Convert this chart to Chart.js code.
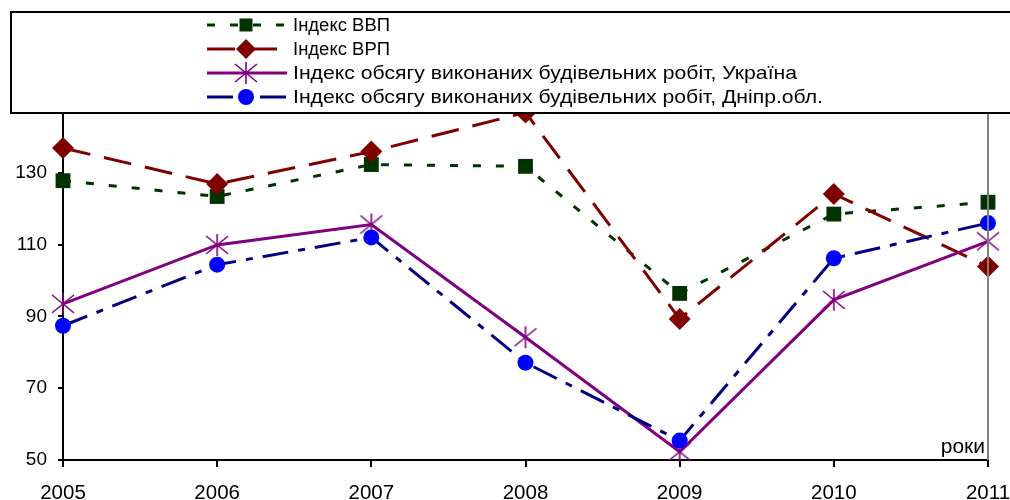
<!DOCTYPE html>
<html><head><meta charset="utf-8">
<script src="https://cdn.jsdelivr.net/npm/chart.js@4.4.0/dist/chart.umd.min.js"></script>
<style>html,body{margin:0;padding:0;background:#fff}#wrap{width:1010px;height:500px;position:relative}</style>
</head><body><div id="wrap"><canvas id="c" width="1010" height="500"></canvas></div>
<script>
const years = ['2005','2006','2007','2008','2009','2010','2011'];
const gdpIndex = [127.8,123.4,132.3,131.8,96.4,118.5,121.8];
const grpIndex = [136.9,126.9,135.9,146.8,89.3,124.1,103.9];
const constrUkraine = [93.5,109.9,115.6,84.2,52.3,94.6,110.9];
const constrDnipro = [87.4,104.4,112.0,77.1,55.4,106.2,116.0];
const seriesNames = ['Індекс ВВП','Індекс ВРП','Індекс обсягу виконаних будівельних робіт, Україна','Індекс обсягу виконаних будівельних робіт, Дніпр.обл.'];
const yTickValues = [50,70,90,110,130];
const axisNote = 'роки';

const FONT = '"Liberation Sans", Arial, sans-serif';

function makeStar(color){
  const s = 28, m = s/2;
  const c = document.createElement('canvas'); c.width = s; c.height = s;
  const g = c.getContext('2d');
  g.strokeStyle = color; g.lineWidth = 1.6;
  g.beginPath();
  g.moveTo(m, m-11); g.lineTo(m, m+11);
  g.moveTo(m-11, m-9); g.lineTo(m+11, m+9);
  g.moveTo(m+11, m-9); g.lineTo(m-11, m+9);
  g.stroke();
  return c;
}
const starImg = makeStar('#800080');

const styles = [
  {line:'#003300', dash:[8,15], marker:'rect', fill:'#003300', r:10.5},
  {line:'#800000', dash:[28,14], marker:'rectRot', fill:'#800000', r:11},
  {line:'#800080', dash:[], marker:'star', fill:'#800080', r:12},
  {line:'#000080', dash:[26,10,7,10], marker:'circle', fill:'#0000FF', r:8}
];
const seriesData = [gdpIndex, grpIndex, constrUkraine, constrDnipro];
const legendTextEnds = [390, 390, 797, 823];

function drawMarker(ctx, st, x, y){
  ctx.save();
  ctx.fillStyle = st.fill; ctx.strokeStyle = st.fill; ctx.setLineDash([]);
  if (st.marker === 'rect'){ const h = 6.5; ctx.fillRect(x-h, y-h, 2*h, 2*h); }
  else if (st.marker === 'rectRot'){ const r = 10; ctx.beginPath(); ctx.moveTo(x, y-r); ctx.lineTo(x+r, y); ctx.lineTo(x, y+r); ctx.lineTo(x-r, y); ctx.closePath(); ctx.fill(); }
  else if (st.marker === 'circle'){ ctx.beginPath(); ctx.arc(x, y, 8, 0, Math.PI*2); ctx.fill(); }
  else { ctx.drawImage(starImg, x-14, y-14); }
  ctx.restore();
}

const overlay = {
  id:'overlay',
  afterDatasetsDraw(chart){
    const ctx = chart.ctx, a = chart.chartArea;
    ctx.save();
    ctx.strokeStyle = '#808080'; ctx.lineWidth = 2;
    ctx.beginPath(); ctx.moveTo(a.right, a.top); ctx.lineTo(a.right, a.bottom); ctx.stroke();
    ctx.fillStyle = '#000'; ctx.font = '21px ' + FONT;
    ctx.textAlign = 'right'; ctx.textBaseline = 'alphabetic';
    ctx.fillText(axisNote, a.right - 3, a.bottom - 7);
    ctx.fillStyle = '#fff'; ctx.fillRect(10, 12, 1010, 101);
    ctx.strokeStyle = '#000'; ctx.lineWidth = 2;
    ctx.strokeRect(11, 12, 1010, 101);
    const rows = [25, 49, 73, 97];
    for (let i = 0; i < styles.length; i++){
      const st = styles[i], y = rows[i];
      ctx.strokeStyle = st.line; ctx.lineWidth = 3; ctx.setLineDash(st.dash);
      ctx.beginPath(); ctx.moveTo(207, y); ctx.lineTo(287, y); ctx.stroke();
      ctx.setLineDash([]);
      drawMarker(ctx, st, 246, y);
      ctx.fillStyle = '#000'; ctx.font = '18.5px ' + FONT;
      ctx.textAlign = 'left'; ctx.textBaseline = 'middle';
      const w = ctx.measureText(seriesNames[i]).width;
      const sx = (legendTextEnds[i] - 293) / w;
      ctx.save(); ctx.translate(293, y + 1); ctx.scale(sx, 1);
      ctx.fillText(seriesNames[i], 0, 0);
      ctx.restore();
    }
    ctx.restore();
  }
};

new Chart(document.getElementById('c'), {
  type:'line',
  data:{
    labels: years,
    datasets: seriesData.map((d, i) => ({
      label: seriesNames[i],
      data: d,
      borderColor: styles[i].line,
      borderWidth: 3,
      borderDash: styles[i].dash,
      backgroundColor: styles[i].fill,
      pointBackgroundColor: styles[i].fill,
      pointBorderColor: styles[i].fill,
      pointBorderWidth: 0,
      pointStyle: styles[i].marker === 'star' ? starImg : styles[i].marker,
      pointRadius: styles[i].r,
      tension: 0,
      fill: false,
      order: 4 - i,
      clip: false
    }))
  },
  options:{
    responsive:false,
    animation:false,
    layout:{padding:{top:101, right:22, left:0, bottom:0}},
    plugins:{legend:{display:false}, tooltip:{enabled:false}},
    scales:{
      x:{
        afterFit(s){ s.height = 40; s.paddingLeft = 0; s.paddingRight = 0; },
        grid:{display:true, drawOnChartArea:false, drawTicks:true, tickLength:7, color:'#000', lineWidth:2},
        border:{display:true, color:'#000', width:2},
        ticks:{color:'#000', font:{family:FONT, size:20.5}, padding:14, maxRotation:0, autoSkip:false}
      },
      y:{
        min:50, max:150,
        afterFit(s){ s.width = 63; s.paddingTop = 0; s.paddingBottom = 0; },
        afterBuildTicks(s){ s.ticks = yTickValues.map(v => ({value:v})); },
        grid:{display:true, drawOnChartArea:false, drawTicks:true, tickLength:5, color:'#000', lineWidth:2},
        border:{display:true, color:'#000', width:2},
        ticks:{color:'#000', font:{family:FONT, size:19}, padding:11}
      }
    }
  },
  plugins:[overlay]
});
</script>
</body></html>
